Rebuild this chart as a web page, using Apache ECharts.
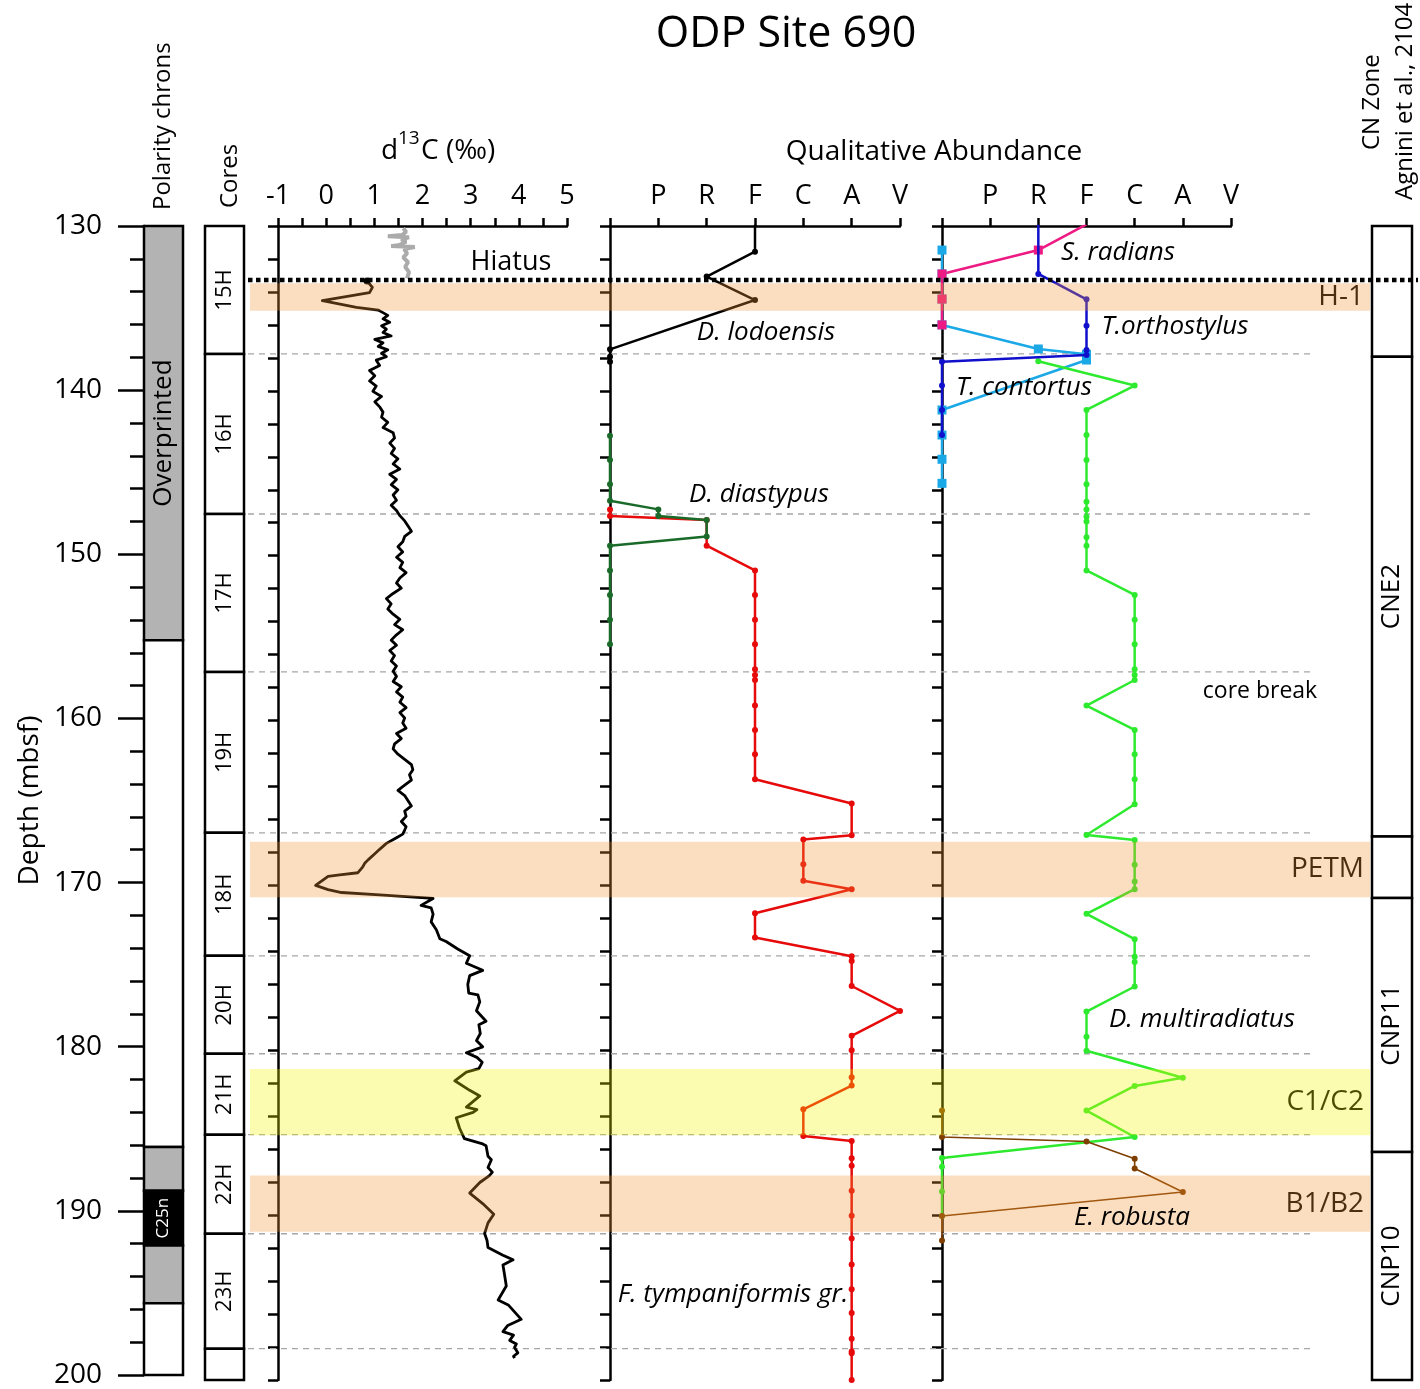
<!DOCTYPE html>
<html><head><meta charset="utf-8">
<script src="https://cdn.jsdelivr.net/npm/echarts@6/dist/echarts.min.js"></script>
<style>html,body{margin:0;padding:0;background:#fff}#c{width:1420px;height:1389px}</style>
</head><body><div id="c"></div><script>
// ---------------- DATA ----------------
const ABUND = ['-', 'P', 'R', 'F', 'C', 'A', 'V'];
const d13cTicks = [-1, 0, 1, 2, 3, 4, 5];

const polarityTop    = [130, 155.23, 186.11, 188.78, 192.11, 195.63];
const polarityBottom = [155.23, 186.11, 188.78, 192.11, 195.63, 200];
const polarityKind   = ['uncertain', 'reversed', 'uncertain', 'normal', 'uncertain', 'reversed'];
const polarityLabels = ['Overprinted', '', '', 'C25n', '', ''];

const coreTop    = [130, 137.76, 147.47, 157.05, 166.81, 174.27, 180.21, 185.12, 191.13, 198.1];
const coreBottom = [137.76, 147.47, 157.05, 166.81, 174.27, 180.21, 185.12, 191.13, 198.1, 200];
const coreLabels = ['15H', '16H', '17H', '19H', '18H', '20H', '21H', '22H', '23H', ''];

const cnTop    = [130, 137.93, 167.03, 170.76, 186.17];
const cnBottom = [137.93, 167.03, 170.76, 186.17, 200];
const cnLabels = ['', 'CNE2', '', 'CNP11', 'CNP10'];

const eventTop    = [133.48, 167.35, 181.14, 187.6];
const eventBottom = [135.14, 170.72, 185.15, 191.0];
const eventNames  = ['H-1', 'PETM', 'C1/C2', 'B1/B2'];
const eventKind   = ['orange', 'orange', 'yellow', 'orange'];
const hiatusDepth = 133.28;

const grayDepth = [130.14,130.35,130.55,130.62,130.68,130.80,130.95,131.15,131.22,131.28,131.40,131.66,131.90,132.20,132.47,132.80,133.18];
const grayValue = [1.60,1.66,1.58,1.28,1.72,1.56,1.66,1.52,1.35,1.84,1.62,1.68,1.60,1.70,1.64,1.72,1.68];

const d13cDepth = [133.34,133.72,134.04,134.53,134.93,135.10,
135.21,135.42,135.63,135.84,136.05,136.26,136.46,136.67,136.88,137.09,
137.30,137.51,137.72,137.93,138.14,138.46,138.77,139.08,139.40,139.71,
140.03,140.34,140.66,140.97,141.29,141.60,141.91,142.23,142.54,142.86,
143.17,143.49,143.80,144.12,144.43,144.74,145.06,145.37,145.69,146.00,
146.32,146.63,146.94,147.26,147.57,147.89,148.20,148.52,148.83,149.15,
149.46,149.77,150.09,150.40,150.72,151.03,151.35,151.66,151.97,152.29,
152.60,152.92,153.23,153.55,153.86,154.18,154.49,154.80,155.12,155.43,
155.75,156.06,156.38,156.69,157.01,157.32,157.63,157.95,158.26,158.58,
158.89,159.21,159.52,159.84,160.15,160.46,160.78,161.09,161.41,161.72,
162.04,162.35,162.67,162.98,163.29,163.61,163.92,164.24,164.55,164.87,
165.18,165.49,165.81,166.12,166.44,
166.64,166.89,167.11,167.45,167.81,168.08,168.45,168.66,168.87,169.23,169.36,
169.45,170.00,170.25,170.43,170.57,170.79,171.21,171.36,171.74,172.21,
172.70,173.23,173.40,173.87,174.26,174.72,175.15,175.47,176.00,176.53,
176.64,177.06,177.60,178.24,178.45,178.98,179.41,179.79,180.15,180.43,
180.73,181.11,181.32,181.85,182.43,182.77,183.45,183.60,183.77,184.09,
184.73,185.36,185.68,185.79,186.43,186.64,187.11,187.39,187.60,188.02,
188.66,189.30,189.94,190.47,191.11,191.54,191.96,192.43,192.71,193.03,
193.56,194.30,195.15,195.47,196.32,196.69,197.07,197.28,197.60,197.81,
198.03,198.35,198.56,198.67];
const d13cValue = [0.85,0.96,0.90,-0.08,0.63,1.08,
1.15,1.28,1.18,1.32,1.15,1.25,1.18,1.35,1.01,1.18,
1.08,1.28,1.15,1.25,1.04,1.11,0.90,1.01,0.90,1.04,
0.97,1.15,1.01,1.11,1.18,1.15,1.28,1.18,1.39,1.42,
1.32,1.42,1.35,1.49,1.39,1.53,1.32,1.46,1.35,1.49,
1.39,1.46,1.35,1.46,1.53,1.63,1.70,1.77,1.63,1.59,
1.49,1.59,1.46,1.59,1.53,1.66,1.53,1.46,1.56,1.39,
1.25,1.35,1.28,1.39,1.53,1.42,1.59,1.46,1.35,1.46,
1.32,1.42,1.35,1.46,1.39,1.46,1.39,1.56,1.46,1.59,
1.53,1.66,1.53,1.63,1.59,1.66,1.46,1.56,1.42,1.39,
1.49,1.63,1.77,1.80,1.73,1.77,1.63,1.49,1.63,1.70,
1.77,1.63,1.66,1.56,1.66,
1.63,1.59,1.46,1.25,1.11,1.01,0.87,0.80,0.76,0.66,0.28,
0.04,-0.22,0.04,0.32,1.11,2.22,1.97,2.18,2.22,2.18,
2.29,2.36,2.49,2.74,2.98,2.91,3.25,2.98,2.94,2.96,
3.15,3.19,3.12,3.32,3.17,3.20,3.12,3.25,2.91,3.13,
3.24,3.17,2.91,2.67,2.98,3.19,2.91,3.13,3.05,2.70,
2.77,2.87,3.25,3.32,3.36,3.43,3.36,3.45,3.39,3.19,
2.98,3.25,3.48,3.36,3.29,3.34,3.36,3.67,3.88,3.67,
3.70,3.74,3.57,3.79,4.05,3.77,3.67,3.89,3.81,3.95,
3.91,3.98,3.89,3.91];

// Middle panel species
const lodoDepth = [129.0, 131.56, 133.07, 134.49, 137.48, 137.93, 138.23];
const lodoAbund = ['F', 'F', 'R', 'F', '-', '-', '-'];
const diastDepth = [142.72, 144.19, 145.67, 146.66, 147.19, 147.59, 147.83, 148.84, 149.39, 150.89, 152.38, 153.88, 155.37];
const diastAbund = ['-', '-', '-', '-', 'P', 'P', 'R', 'R', '-', '-', '-', '-', '-'];
const tympDepth = [147.19,147.59,147.83,149.39,150.89,152.38,153.88,155.37,156.89,157.23,
157.54,159.09,160.57,162.05,163.56,165.03,166.96,167.21,168.72,169.72,
170.23,171.69,173.16,174.29,174.59,176.10,177.61,179.12,180.00,181.63,
182.14,183.58,185.20,185.50,186.55,187.01,188.52,190.03,191.42,193.00,
194.50,195.94,197.50,198.27,198.38,200.0];
const tympAbund = ['-','-','R','R','F','F','F','F','F','F',
'F','F','F','F','F','A','A','C','C','C',
'A','F','F','A','A','A','V','A','A','A',
'A','C','C','A','A','A','A','A','A','A',
'A','A','A','A','A','A'];

// Right panel species
const radDepth = [129.9, 131.46, 132.91, 134.43, 136.0];
const radAbund = ['F', 'R', '-', '-', '-'];
const orthDepth = [129.0, 132.91, 134.45, 136.05, 137.52, 137.82, 138.23, 139.68, 141.16, 142.68];
const orthAbund = ['R', 'R', 'F', 'F', 'F', 'F', '-', '-', '-', '-'];
const contDepth = [131.46, 132.91, 134.43, 136.0, 137.46, 137.78, 138.13, 141.16, 142.68, 144.15, 145.61];
const contAbund = ['-', '-', '-', '-', 'R', 'F', 'F', '-', '-', '-', '-'];
const multDepth = [138.2,139.68,141.16,142.68,144.19,145.67,146.72,147.19,147.63,147.93,
148.88,149.39,150.89,152.38,153.88,155.37,156.89,157.23,157.54,159.09,
160.57,162.05,163.56,165.08,166.94,167.25,168.74,169.76,170.23,171.72,
173.26,174.32,174.64,176.13,177.65,179.18,180.03,181.67,182.16,183.66,
185.26,186.53,187.07,188.56,190.05];
const multAbund = ['R','C','F','F','F','F','F','F','F','F',
'F','F','F','C','C','C','C','C','C','F',
'C','C','C','C','F','C','C','C','C','F',
'C','C','C','C','F','F','F','A','C','F',
'C','-','-','-','-'];
const robDepth = [183.66, 185.26, 185.53, 186.58, 187.17, 188.6, 190.05, 191.54];
const robAbund = ['-', '-', 'F', 'C', 'C', 'A', '-', '-'];

// ---------------- STYLE / LAYOUT ----------------
const FONT = '"Open Sans", "Noto Sans", sans-serif';
const TOP = 226, HEIGHT = 1154;
const POL_FILL = {uncertain: '#b3b3b3', reversed: '#ffffff', normal: '#000000'};
const BAND_FILL = {orange: 'rgba(242,145,48,0.31)', yellow: 'rgba(245,245,0,0.31)'};

function abundPoints(depths, abund) {
  return depths.map((d, i) => [ABUND.indexOf(abund[i]), d]);
}
function pairs(depths, values) { return depths.map((d, i) => [values[i], d]); }

function txt(t, x, y, font, extra) {
  return {type: 'text', x, y, z: 100,
    style: Object.assign({text: t, font: font, fill: '#000', align: 'center', verticalAlign: 'middle',
      textAlign: 'center', textVerticalAlign: 'middle'}, extra || {})};
}
function rtxt(t, x, y, font) {
  return {type: 'text', x, y, rotation: Math.PI / 2, z: 100,
    style: {text: t, font, fill: '#000', align: 'left', verticalAlign: 'middle', textAlign: 'left', textVerticalAlign: 'middle'}};
}

function depthAxis(gi, extra) {
  return Object.assign({type: 'value', gridIndex: gi, min: 130, max: 200, inverse: true,
    splitLine: {show: false}, axisLabel: {show: false}, axisTick: {show: false}, axisLine: {show: false}}, extra || {});
}
const blackLine = {color: '#000', width: 2.5};
function panelY(gi) {
  return depthAxis(gi, {interval: 2, axisLine: {show: true, onZero: false, lineStyle: blackLine},
    axisTick: {show: true, length: 10, lineStyle: blackLine}});
}
function hiddenX(gi, max) { return {type: 'value', gridIndex: gi, min: 0, max: max, show: false}; }
function abundX(gi) {
  return {type: 'value', gridIndex: gi, position: 'top', min: 0, max: 6, interval: 1,
    axisLine: {show: true, onZero: false, lineStyle: blackLine},
    axisTick: {show: true, length: 8, lineStyle: blackLine},
    axisLabel: {fontSize: 27, color: '#000', margin: 16, fontFamily: FONT,
      formatter: v => (Math.round(v) > 0 ? ABUND[Math.round(v)] : '')},
    splitLine: {show: false}};
}

function columnSeries(gi, tops, bottoms, fills, labels, labelColors, fonts) {
  return {
    type: 'custom', xAxisIndex: gi, yAxisIndex: gi, z: 5, silent: true,
    data: tops.map((t, i) => [t, bottoms[i], i]),
    renderItem(params, api) {
      const i = api.value(2);
      const p0 = api.coord([0, api.value(0)]);
      const p1 = api.coord([1, api.value(1)]);
      const ch = [{type: 'rect', shape: {x: p0[0], y: p0[1], width: p1[0] - p0[0], height: p1[1] - p0[1]},
        style: {fill: fills[i], stroke: '#000', lineWidth: 2.5}}];
      if (labels[i]) ch.push({type: 'text', x: (p0[0] + p1[0]) / 2, y: (p0[1] + p1[1]) / 2, rotation: Math.PI / 2,
        style: {text: labels[i], fill: labelColors[i], font: fonts[i], align: 'center', verticalAlign: 'middle',
          textAlign: 'center', textVerticalAlign: 'middle'}});
      return {type: 'group', children: ch};
    }
  };
}

function speciesSeries(gi, depths, abund, color, symbol, size, width, z) {
  return {type: 'line', xAxisIndex: gi, yAxisIndex: gi, data: abundPoints(depths, abund), clip: true,
    symbol: symbol, symbolSize: size, showAllSymbol: true, z: z || 3,
    lineStyle: {color: color, width: width}, itemStyle: {color: color}, animation: false};
}

const option = {
  animation: false,
  textStyle: {fontFamily: FONT},
  grid: [
    {left: 144, top: TOP, width: 39, height: HEIGHT},
    {left: 205, top: TOP, width: 39, height: HEIGHT},
    {left: 278, top: TOP, width: 289, height: HEIGHT},
    {left: 610, top: TOP, width: 290, height: HEIGHT},
    {left: 942, top: TOP, width: 289, height: HEIGHT},
    {left: 1372, top: TOP, width: 40, height: HEIGHT},
    {left: 0, top: TOP, width: 1420, height: HEIGHT}
  ],
  xAxis: [
    hiddenX(0, 1), hiddenX(1, 1),
    {type: 'value', gridIndex: 2, position: 'top', min: -1, max: 5, interval: 0.5,
      axisLine: {show: true, onZero: false, lineStyle: blackLine},
      axisTick: {show: true, length: 8, lineStyle: blackLine},
      axisLabel: {fontSize: 27, color: '#000', margin: 16, fontFamily: FONT,
        formatter: v => (d13cTicks.indexOf(Math.round(v * 10) / 10) >= 0 ? String(Math.round(v)) : '')},
      splitLine: {show: false}},
    abundX(3), abundX(4), hiddenX(5, 1), hiddenX(6, 1420)
  ],
  yAxis: [
    depthAxis(0, {interval: 10,
      axisLine: {show: true, onZero: false, lineStyle: blackLine},
      axisTick: {show: true, length: 26, lineStyle: blackLine},
      minorTick: {show: true, splitNumber: 5, length: 14, lineStyle: blackLine},
      axisLabel: {show: true, fontSize: 28, color: '#000', margin: 42, fontFamily: FONT},
      name: 'Depth (mbsf)', nameLocation: 'middle', nameGap: 100, nameRotate: 90,
      nameTextStyle: {fontSize: 28, color: '#000', fontFamily: FONT}}),
    depthAxis(1), panelY(2), panelY(3), panelY(4), depthAxis(5), depthAxis(6)
  ],
  series: [
    columnSeries(0, polarityTop, polarityBottom, polarityKind.map(k => POL_FILL[k]), polarityLabels,
      polarityKind.map(k => (k === 'normal' ? '#fff' : '#000')),
      polarityKind.map(k => (k === 'normal' ? '17px ' : '26px ') + FONT)),
    columnSeries(1, coreTop, coreBottom, coreTop.map(() => '#fff'), coreLabels, coreTop.map(() => '#000'),
      coreTop.map(() => '22px ' + FONT)),
    columnSeries(5, cnTop, cnBottom, cnTop.map(() => '#fff'), cnLabels, cnTop.map(() => '#000'),
      cnTop.map(() => '26px ' + FONT)),
    // core-break dashed lines
    {type: 'custom', xAxisIndex: 6, yAxisIndex: 6, z: 1, silent: true,
      data: coreBottom.slice(0, -1).map(d => [d]),
      renderItem(params, api) {
        const y = api.coord([0, api.value(0)])[1];
        return {type: 'line', shape: {x1: 248, y1: y, x2: 1312, y2: y},
          style: {stroke: '#a6a6a6', lineWidth: 1.3, lineDash: [6, 5]}};
      }},
    // d13C
    {type: 'line', xAxisIndex: 2, yAxisIndex: 2, data: pairs(grayDepth, grayValue), symbol: 'none',
      lineStyle: {color: '#ababab', width: 4}, z: 3},
    {type: 'line', xAxisIndex: 2, yAxisIndex: 2, data: pairs(d13cDepth, d13cValue), symbol: 'circle',
      symbolSize: (v, p) => (p.dataIndex === 0 ? 7 : 0), showAllSymbol: true,
      lineStyle: {color: '#000', width: 2.8, join: 'round'}, itemStyle: {color: '#000'}, z: 3},
    // middle panel
    speciesSeries(3, lodoDepth, lodoAbund, '#000000', 'circle', 6, 2.5),
    speciesSeries(3, diastDepth, diastAbund, '#1a6b2a', 'circle', 6, 2.5, 4),
    speciesSeries(3, tympDepth, tympAbund, '#e60a0a', 'circle', 6, 2.5, 3),
    // right panel
    speciesSeries(4, contDepth, contAbund, '#1aa8e6', 'rect', 9, 2.5, 3),
    speciesSeries(4, radDepth, radAbund, '#ee1a84', 'rect', 9, 2.5, 3),
    speciesSeries(4, orthDepth, orthAbund, '#1010cc', 'circle', 6, 2.5, 4),
    speciesSeries(4, multDepth, multAbund, '#2eea2e', 'circle', 6, 2.5, 3),
    speciesSeries(4, robDepth, robAbund, '#7f3f00', 'circle', 6, 1.6, 4),
    // event bands (drawn over the curves, translucent)
    {type: 'custom', xAxisIndex: 6, yAxisIndex: 6, z: 10, silent: true,
      data: eventTop.map((t, i) => [t, eventBottom[i], i]),
      renderItem(params, api) {
        const i = api.value(2);
        const p0 = api.coord([250, api.value(0)]);
        const p1 = api.coord([1370, api.value(1)]);
        return {type: 'group', children: [
          {type: 'text', x: 1364, y: (p0[1] + p1[1]) / 2,
            style: {text: eventNames[i], font: '28px ' + FONT, fill: '#000', align: 'right', verticalAlign: 'middle',
              textAlign: 'right', textVerticalAlign: 'middle'}},
          {type: 'rect', shape: {x: p0[0], y: p0[1], width: p1[0] - p0[0], height: p1[1] - p0[1]},
            style: {fill: BAND_FILL[eventKind[i]]}}
        ]};
      }},
    // hiatus
    {type: 'custom', xAxisIndex: 6, yAxisIndex: 6, z: 12, silent: true,
      data: [[hiatusDepth]],
      renderItem(params, api) {
        const y = api.coord([0, api.value(0)])[1];
        return {type: 'line', shape: {x1: 248, y1: y, x2: 1418, y2: y},
          style: {stroke: '#000', lineWidth: 4.5, lineDash: [4.5, 3.5]}};
      }}
  ],
  graphic: {elements: [
    txt('ODP Site 690', 786, 35, '43px ' + FONT),
    rtxt('Polarity chrons', 163, 210, '24px ' + FONT),
    rtxt('Cores', 230, 208, '24px ' + FONT),
    rtxt('CN Zone', 1372, 150, '24px ' + FONT),
    rtxt('Agnini et al., 2104', 1405, 200, '24px ' + FONT),
    txt('d', 381, 151, '28px ' + FONT, {align: 'left', textAlign: 'left'}),
    txt('13', 398, 139, '19px ' + FONT, {align: 'left', textAlign: 'left'}),
    txt('C (‰)', 421, 151, '28px ' + FONT, {align: 'left', textAlign: 'left'}),
    txt('Qualitative Abundance', 934, 152, '28px ' + FONT),
    txt('Hiatus', 511, 262, '27px ' + FONT),
    txt('core break', 1260, 691, '23px ' + FONT),
    txt('D. lodoensis', 766, 333, 'italic 26px ' + FONT),
    txt('D. diastypus', 759, 495, 'italic 26px ' + FONT),
    txt('F. tympaniformis gr.', 733, 1295, 'italic 26px ' + FONT),
    txt('S. radians', 1118, 253, 'italic 26px ' + FONT),
    txt('T.orthostylus', 1175, 327, 'italic 26px ' + FONT),
    txt('T. contortus', 1024, 388, 'italic 26px ' + FONT),
    txt('D. multiradiatus', 1202, 1020, 'italic 26px ' + FONT),
    txt('E. robusta', 1132, 1218, 'italic 26px ' + FONT)
  ]}
};

const chart = echarts.init(document.getElementById('c'), null, {renderer: 'canvas'});
chart.setOption(option);
</script></body></html>
